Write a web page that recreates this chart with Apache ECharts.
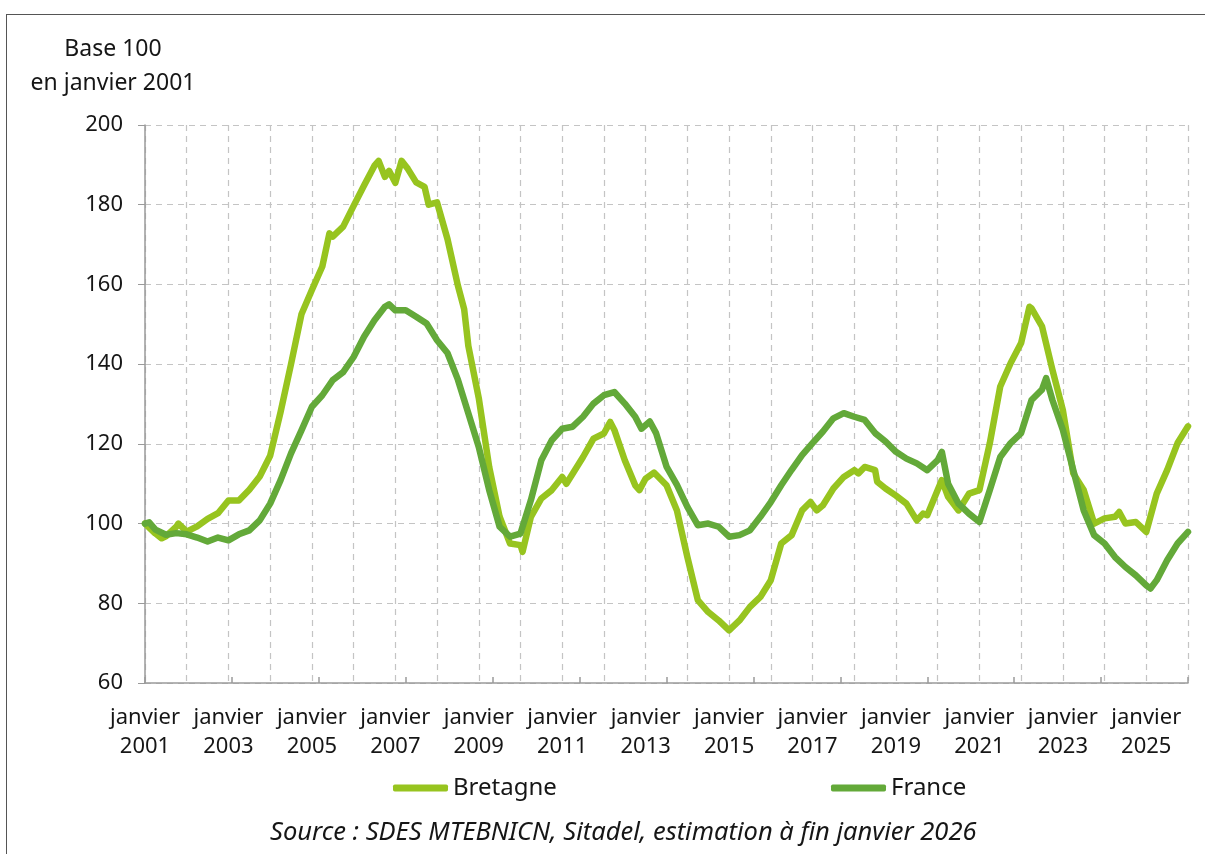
<!DOCTYPE html>
<html>
<head>
<meta charset="utf-8">
<script src="https://cdn.jsdelivr.net/npm/echarts@6/dist/echarts.min.js"></script>
<style>
	html, body {
		margin: 0;
		padding: 0;
		background: #fff;
		overflow: hidden;
	}
	.frame {
		position: absolute;
		left: 6px;
		top: 14px;
		width: 1300px;
		height: 900px;
		border: 1.5px solid #555;
	}
	#chart {
		position: absolute;
		left: 0;
		top: 0;
		width: 1205px;
		height: 854px;
	}
</style>
</head>
<body>
<div class="frame"></div>
<div id="chart"></div>
<script>
// Bretagne : dates (années décimales) et indices
var bretagneDates = [2001.0, 2001.25, 2001.4, 2001.5, 2001.75, 2001.8, 2002.0, 2002.25, 2002.5, 2002.75,
	2003.0, 2003.25, 2003.5, 2003.75, 2004.0, 2004.25, 2004.5, 2004.75, 2005.0, 2005.25,
	2005.42, 2005.5, 2005.75, 2006.0, 2006.25, 2006.5, 2006.6, 2006.75, 2006.85, 2007.0,
	2007.15, 2007.3, 2007.5, 2007.7, 2007.8, 2008.0, 2008.25, 2008.5, 2008.65, 2008.75,
	2009.0, 2009.25, 2009.5, 2009.75, 2010.0, 2010.05, 2010.25, 2010.5, 2010.75, 2011.0,
	2011.1, 2011.25, 2011.5, 2011.75, 2012.0, 2012.15, 2012.25, 2012.5, 2012.75, 2012.85,
	2013.0, 2013.2, 2013.5, 2013.75, 2014.0, 2014.25, 2014.5, 2014.75, 2015.0, 2015.25,
	2015.5, 2015.75, 2016.0, 2016.25, 2016.5, 2016.75, 2016.95, 2017.1, 2017.25, 2017.5,
	2017.75, 2018.0, 2018.1, 2018.25, 2018.5, 2018.55, 2018.75, 2019.0, 2019.25, 2019.5,
	2019.65, 2019.75, 2020.0, 2020.1, 2020.25, 2020.5, 2020.75, 2021.0, 2021.25, 2021.5,
	2021.75, 2022.0, 2022.2, 2022.25, 2022.5, 2022.75, 2023.0, 2023.25, 2023.5, 2023.75,
	2024.0, 2024.25, 2024.35, 2024.5, 2024.75, 2025.0, 2025.25, 2025.5, 2025.75, 2026.0];
var bretagneValues = [100, 97.5, 96.3, 96.8, 99.2, 100, 98, 99.3, 101.2, 102.6,
	105.8, 105.8, 108.5, 111.8, 117, 128, 140, 152.5, 158.6, 164.5,
	172.8, 172, 174.5, 179.7, 184.8, 189.8, 191, 187, 188.5, 185.5,
	191, 189, 185.6, 184.5, 180, 180.6, 171.4, 159.7, 153.8, 144.6,
	131.5, 114.2, 101.7, 95, 94.6, 92.9, 101.7, 106.3, 108.4, 111.7,
	110, 112.5, 116.7, 121.3, 122.6, 125.5, 123.5, 115.9, 109.6, 108.4,
	111.3, 112.8, 109.6, 103.3, 91.6, 80.8, 77.8, 75.7, 73.2, 75.7,
	79.1, 81.6, 85.8, 95, 97.1, 103.3, 105.4, 103.3, 104.6, 108.8,
	111.7, 113.4, 112.6, 114.2, 113.4, 110.5, 108.8, 107, 105, 100.8,
	102.5, 102.1, 108.4, 110.9, 106.7, 103.3, 107.5, 108.4, 120.2, 134.4,
	140.3, 145.3, 154.4, 154, 149.5, 138.6, 128.5, 112.6, 108.4, 100,
	101.3, 101.7, 102.9, 100, 100.4, 97.9, 107.5, 113.4, 120.2, 124.4];

// France
var franceDates = [2001.0, 2001.1, 2001.25, 2001.5, 2001.75, 2002.0, 2002.25, 2002.5, 2002.75, 2003.0,
	2003.25, 2003.5, 2003.75, 2004.0, 2004.25, 2004.5, 2004.75, 2005.0, 2005.25, 2005.5,
	2005.75, 2006.0, 2006.25, 2006.5, 2006.75, 2006.85, 2007.0, 2007.25, 2007.5, 2007.75,
	2008.0, 2008.25, 2008.5, 2008.75, 2009.0, 2009.25, 2009.5, 2009.75, 2010.0, 2010.25,
	2010.5, 2010.75, 2011.0, 2011.25, 2011.5, 2011.75, 2012.0, 2012.25, 2012.5, 2012.75,
	2012.9, 2013.1, 2013.25, 2013.5, 2013.75, 2014.0, 2014.25, 2014.5, 2014.75, 2015.0,
	2015.25, 2015.5, 2015.75, 2016.0, 2016.25, 2016.5, 2016.75, 2017.0, 2017.25, 2017.5,
	2017.75, 2018.0, 2018.25, 2018.5, 2018.75, 2019.0, 2019.25, 2019.5, 2019.75, 2020.0,
	2020.1, 2020.25, 2020.5, 2020.75, 2021.0, 2021.25, 2021.5, 2021.75, 2022.0, 2022.25,
	2022.5, 2022.6, 2022.75, 2023.0, 2023.25, 2023.5, 2023.75, 2024.0, 2024.25, 2024.5,
	2024.75, 2025.0, 2025.1, 2025.25, 2025.5, 2025.75, 2026.0];
var franceValues = [100, 100.3, 98.5, 97.2, 97.6, 97.3, 96.5, 95.5, 96.5, 95.8,
	97.3, 98.3, 100.8, 105, 110.9, 117.6, 123.4, 129.3, 132.2, 136,
	138, 141.8, 146.9, 151, 154.4, 155, 153.5, 153.5, 151.9, 150.2,
	146, 142.8, 136.1, 127.7, 119.2, 108.4, 99.2, 96.7, 97.5, 105.9,
	115.9, 120.9, 123.8, 124.3, 126.8, 130.1, 132.2, 133, 130.1, 126.8,
	123.8, 125.6, 122.7, 114.3, 109.7, 104.2, 99.6, 100, 99.2, 96.7,
	97.1, 98.3, 101.7, 105.4, 109.6, 113.5, 117.2, 120.2, 123.1, 126.4,
	127.7, 126.8, 126, 122.7, 120.6, 118, 116.3, 115.1, 113.4, 115.9,
	118, 110, 105, 102.5, 100.4, 108.4, 116.7, 120.2, 122.7, 131,
	133.6, 136.5, 131, 123.5, 113.4, 103.3, 97.1, 95, 91.6, 89.1,
	87, 84.5, 83.7, 85.8, 90.8, 95, 97.9];

var yTicks = [60, 80, 100, 120, 140, 160, 180, 200];

var FONT = '"Noto Sans", "Open Sans", sans-serif';
var TEXT = '#161616';

function pairs(dates, values) {
	return dates.map(function (d, i) { return [d, values[i]]; });
}

var myChart = echarts.init(document.getElementById('chart'), null, { renderer: 'canvas' });
var option = {
	animation: false,
	textStyle: { fontFamily: FONT },
	title: {
		text: 'Base 100\nen janvier 2001',
		left: 108,
		top: 27,
		textAlign: 'center',
		textStyle: {
			fontFamily: FONT,
			fontSize: 23,
			fontWeight: 'normal',
			color: TEXT,
			lineHeight: 34,
			align: 'center'
		}
	},
	legend: [
		{
			data: ['Bretagne'],
			left: 388,
			top: 771,
			itemWidth: 55,
			itemHeight: 7,
			icon: 'roundRect',
			textStyle: { fontFamily: FONT, fontSize: 24, color: TEXT, padding: [0, 0, 0, 0] }
		},
		{
			data: ['France'],
			left: 826,
			top: 771,
			itemWidth: 55,
			itemHeight: 7,
			icon: 'roundRect',
			textStyle: { fontFamily: FONT, fontSize: 24, color: TEXT, padding: [0, 0, 0, 0] }
		}
	],
	grid: {
		left: 145,
		right: 17,
		top: 125,
		bottom: 171,
		containLabel: false
	},
	xAxis: [
		{
			type: 'value',
			min: 2001,
			max: 2026,
			interval: 1,
			axisLine: { show: true, lineStyle: { color: '#9a9a9a', width: 1.5 } },
			axisTick: { show: false },
			splitLine: { show: true, lineStyle: { color: '#c4c4c4', type: [6, 5], width: 1.2 } },
			axisLabel: {
				margin: 20,
				fontFamily: FONT,
				fontSize: 22,
				color: TEXT,
				lineHeight: 29,
				formatter: function (v) {
					return (v % 2 === 1 && v < 2026) ? 'janvier\n' + v : '';
				}
			}
		},
		{
			// repères pleins tous les deux ans
			type: 'value',
			position: 'bottom',
			min: 2001,
			max: 2025,
			interval: 2,
			gridIndex: 0,
			axisLine: { show: false },
			axisTick: { show: true, inside: true, length: 6, lineStyle: { color: '#9a9a9a', width: 1.5 } },
			axisLabel: { show: false },
			splitLine: { show: false }
		}
	],
	yAxis: {
		type: 'value',
		min: 60,
		max: 200,
		interval: 20,
		axisLine: { show: true, lineStyle: { color: '#9a9a9a', width: 1.5 } },
		axisTick: { show: true, length: 7, lineStyle: { color: '#9a9a9a' } },
		splitLine: { show: true, lineStyle: { color: '#c4c4c4', type: [6, 5], width: 1.2 } },
		axisLabel: {
			margin: 22,
			fontFamily: FONT,
			fontSize: 22,
			color: TEXT,
			formatter: function (v) { return yTicks.indexOf(v) >= 0 ? String(v) : ''; }
		}
	},
	graphic: [
		{
			type: 'text',
			left: 270,
			top: 820,
			style: {
				text: 'Source : SDES MTEBNICN, Sitadel, estimation à fin janvier 2026',
				font: 'italic 25.5px ' + FONT,
				fill: TEXT
			}
		}
	],
	series: [
		{
			name: 'Bretagne',
			type: 'line',
			xAxisIndex: 0,
			showSymbol: false,
			symbol: 'none',
			smooth: false,
			color: '#97c41f',
			lineStyle: { width: 6.5, color: '#97c41f', cap: 'round', join: 'round' },
			data: pairs(bretagneDates, bretagneValues)
		},
		{
			name: 'France',
			type: 'line',
			xAxisIndex: 0,
			showSymbol: false,
			symbol: 'none',
			smooth: false,
			color: '#63a939',
			lineStyle: { width: 6.5, color: '#63a939', cap: 'round', join: 'round' },
			data: pairs(franceDates, franceValues)
		}
	]
};
option && myChart.setOption(option);
</script>
</body>
</html>
